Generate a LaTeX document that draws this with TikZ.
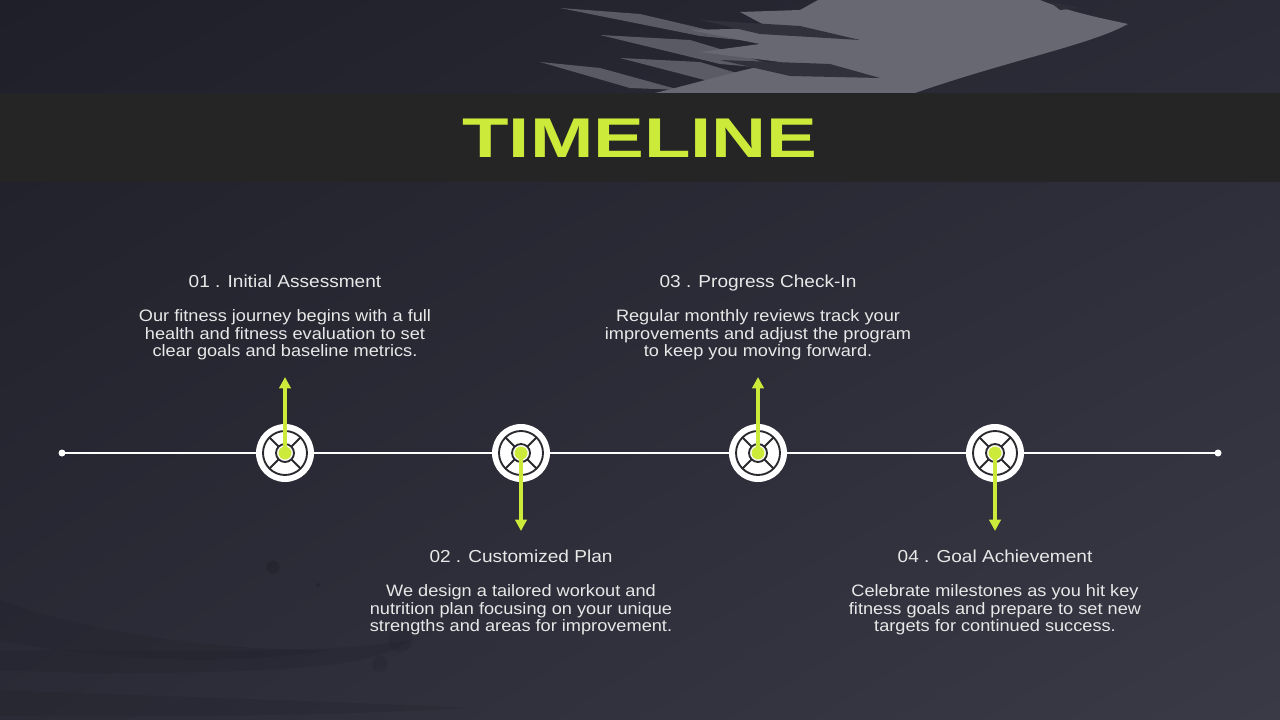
\documentclass[tikz,border=0pt]{standalone}
\usepackage{fontspec}
\setmainfont{Liberation Sans}[FakeStretch=1.1]
\newfontfamily\titlefont{Liberation Sans}[FakeStretch=1.36]
\usetikzlibrary{arrows.meta,shadings}

\definecolor{bgdark}{HTML}{1E1F28}
\definecolor{bgmid}{HTML}{2A2B36}
\definecolor{bglight}{HTML}{393A46}
\definecolor{band}{HTML}{252525}
\definecolor{brush}{HTML}{686873}
\definecolor{lime}{HTML}{CBEA3A}
\definecolor{ink}{HTML}{2A2A2E}
\definecolor{paper}{HTML}{E8E8E8}

\tikzset{
	x=0.75pt, y=-0.75pt,
	ring/.style={draw=none, circle, fill=white, minimum size=43.5pt, inner sep=0pt},
	heading/.style={text=paper, anchor=base, font=\fontsize{13pt}{15pt}\selectfont},
	body/.style={text=paper, align=center, anchor=north, font=\fontsize{12.4pt}{13.1pt}\selectfont},
	pointer/.style={lime, line width=2.4pt, -{Triangle[length=8.5pt, width=8.5pt]}},
	streak/.style={brush, opacity=0.8},
	smudge/.style={bgdark, opacity=0.22},
	lifering/.pic={
		\draw[ink, line width=1.4pt] (0,0) circle[radius=22];
		\draw[ink, line width=1.4pt] (0,0) circle[radius=9];
		\draw[ink, line width=1.4pt] (45:9) -- (45:22) (135:9) -- (135:22)
			(225:9) -- (225:22) (315:9) -- (315:22);
	}
}

\begin{document}
\begin{tikzpicture}
	\useasboundingbox (0,0) rectangle (1280,720);

	% Background
	\shade[upper left=bgdark, upper right=bgmid, lower left=bgmid, lower right=bglight]
		(0,0) rectangle (1280,720);

	% Brush stroke at the top
	\fill[brush] (818,0) -- (1040,0) .. controls (1070,12) and (1100,18) .. (1128,24)
		.. controls (1090,45) and (1010,60) .. (915,93) -- (655,93)
		.. controls (700,82) and (740,70) .. (780,62) -- (700,52) -- (760,44)
		-- (690,30) -- (770,28) -- (740,12) -- (800,10) -- cycle;
	\fill[streak] (560,8) -- (640,14) -- (760,42) -- (700,36) -- cycle;
	\fill[streak] (600,35) -- (690,40) -- (790,70) -- (720,64) -- cycle;
	\fill[streak] (620,58) -- (700,62) -- (780,86) -- (720,84) -- cycle;
	\fill[streak] (540,62) -- (600,68) -- (680,90) -- (630,88) -- cycle;
	\fill[bgdark!75!brush] (700,20) -- (800,26) -- (860,40) -- (760,34) -- cycle;
	\fill[bgdark!75!brush] (720,60) -- (830,64) -- (880,78) -- (790,76) -- cycle;
	\fill[bgdark!80!brush] (1050,2) -- (1080,8) -- (1060,10) -- cycle;

	% Faint brush marks at the bottom left
	\fill[smudge] (0,600) .. controls (80,630) and (200,650) .. (330,650)
		.. controls (250,664) and (120,664) .. (0,640) -- cycle;
	\fill[smudge] (0,650) .. controls (150,650) and (330,655) .. (410,640)
		.. controls (380,665) and (300,670) .. (200,672) .. controls (120,675) and (40,672) .. (0,670) -- cycle;
	\fill[smudge] (0,690) .. controls (120,695) and (300,700) .. (470,708)
		.. controls (350,715) and (150,718) .. (0,716) -- cycle;
	\fill[smudge] (400,640) circle[radius=12];
	\fill[smudge] (380,664) circle[radius=8];
	\fill[bgdark, opacity=0.45] (273,567) circle[radius=6.5];
	\fill[bgdark, opacity=0.45] (318,585) circle[radius=2];

	% Title band
	\fill[band] (0,93) rectangle (1280,182);
	\node[text=lime, font=\titlefont\bfseries\fontsize{42pt}{44pt}\selectfont] (title) at (640,138) {TIMELINE};

	% Timeline axis
	\coordinate (start) at (62,453);
	\coordinate (end) at (1218,453);
	\draw[white, line width=1.5pt] (start) -- (end);
	\fill[white] (start) circle[radius=3.5];
	\fill[white] (end) circle[radius=3.5];

	% Milestones
	\node[ring] (m1) at (285,453) {};
	\node[ring] (m2) at (521,453) {};
	\node[ring] (m3) at (758,453) {};
	\node[ring] (m4) at (995,453) {};
	\pic at (m1) {lifering};
	\pic at (m2) {lifering};
	\pic at (m3) {lifering};
	\pic at (m4) {lifering};

	% Arrow ends
	\coordinate (t1) at (285,377);
	\coordinate (t2) at (521,531);
	\coordinate (t3) at (758,377);
	\coordinate (t4) at (995,531);

	% Arrows
	\draw[pointer] (m1.center) -- (t1);
	\draw[pointer] (m2.center) -- (t2);
	\draw[pointer] (m3.center) -- (t3);
	\draw[pointer] (m4.center) -- (t4);
	\fill[lime] (m1) circle[radius=6.5];
	\fill[lime] (m2) circle[radius=6.5];
	\fill[lime] (m3) circle[radius=6.5];
	\fill[lime] (m4) circle[radius=6.5];

	% Labels
	\node[heading] (h1) at (285,287) {01 . Initial Assessment};
	\node[body] (b1) at (285,305) {Our fitness journey begins with a full\\health and fitness evaluation to set\\clear goals and baseline metrics.};
	\node[heading] (h2) at (521,562) {02 . Customized Plan};
	\node[body] (b2) at (521,580) {We design a tailored workout and\\nutrition plan focusing on your unique\\strengths and areas for improvement.};
	\node[heading] (h3) at (758,287) {03 . Progress Check-In};
	\node[body] (b3) at (758,305) {Regular monthly reviews track your\\improvements and adjust the program\\to keep you moving forward.};
	\node[heading] (h4) at (995,562) {04 . Goal Achievement};
	\node[body] (b4) at (995,580) {Celebrate milestones as you hit key\\fitness goals and prepare to set new\\targets for continued success.};
\end{tikzpicture}
\end{document}
